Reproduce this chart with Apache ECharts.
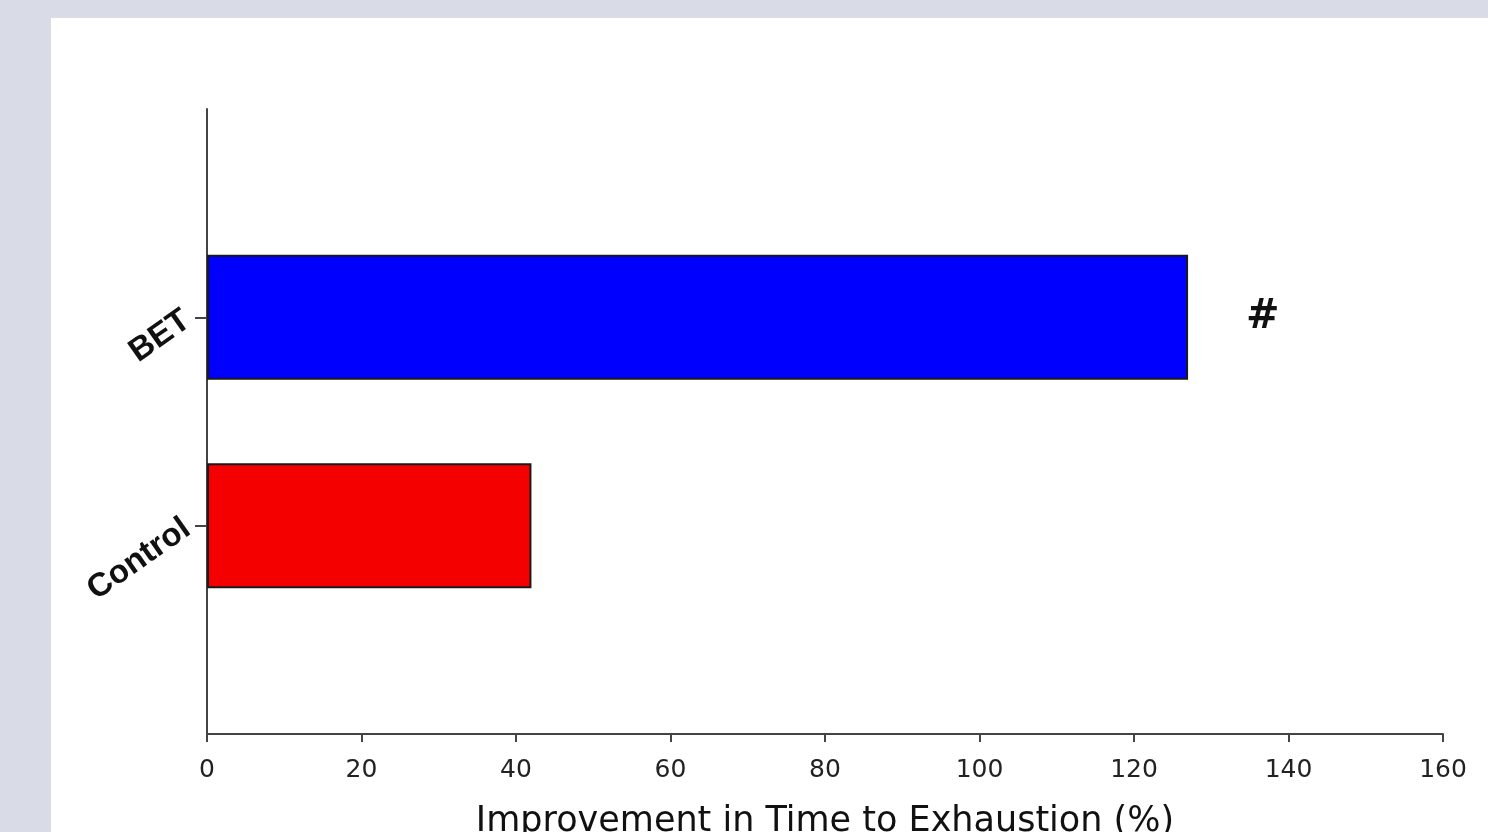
<!DOCTYPE html>
<html>
<head>
<meta charset="utf-8">
<script src="https://cdn.jsdelivr.net/npm/echarts@6/dist/echarts.min.js"></script>
<style>
  html, body { margin: 0; padding: 0; background: #d9dce6; overflow: hidden; }
  #main { position: absolute; left: 51px; top: 18px; width: 1437px; height: 814px; background: #fff; }
</style>
</head>
<body>
<div id="main"></div>
<script>
// groups, bottom to top (blank slots keep the axis ends free)
const groups = ['', 'Control', 'BET', ''];
const improvement = ['-', 42, 127, '-'];
const barColors = [null, '#f50000', '#0000ff', null];
const marks = ['', '', '#', ''];
const xTicks = [0, 160, 20];

let chart = echarts.init(document.getElementById('main'));

let barData = improvement.map((v, i) => {
    if (v === '-') return '-';
    return {
        value: v,
        itemStyle: {color: barColors[i]},
        label: {show: marks[i] !== '', formatter: marks[i]}
    };
});

let option = {
    animation: false,
    grid: {left: 156, right: 45, top: 91, bottom: 98, outerBoundsMode: 'none', containLabel: false},
    xAxis: {
        type: 'value',
        min: xTicks[0],
        max: xTicks[1],
        interval: xTicks[2],
        name: 'Improvement in Time to Exhaustion (%)',
        nameLocation: 'middle',
        nameGap: 70,
        nameTextStyle: {fontFamily: 'DejaVu Sans', fontSize: 35, color: '#111'},
        axisLine: {show: true, lineStyle: {color: '#444', width: 2}},
        axisTick: {show: true, length: 8, lineStyle: {color: '#444', width: 2}},
        axisLabel: {fontFamily: 'DejaVu Sans', fontSize: 25, color: '#222', margin: 24},
        splitLine: {show: false}
    },
    yAxis: {
        type: 'category',
        data: groups,
        boundaryGap: false,
        axisLine: {lineStyle: {color: '#444', width: 2}},
        axisTick: {
            length: 12,
            interval: (i, v) => v !== '',
            lineStyle: {color: '#444', width: 2}
        },
        axisLabel: {
            rotate: 35,
            fontFamily: 'Liberation Sans',
            fontWeight: 'bold',
            fontSize: 33,
            color: '#111',
            margin: 20
        }
    },
    series: [{
        type: 'bar',
        data: barData,
        barWidth: 125,
        itemStyle: {borderColor: '#1a1a1a', borderWidth: 2},
        label: {
            position: 'right',
            distance: 58,
            fontFamily: 'DejaVu Sans',
            fontWeight: 'bold',
            fontSize: 40,
            color: '#111'
        }
    }]
};
chart.setOption(option);
</script>
</body>
</html>
